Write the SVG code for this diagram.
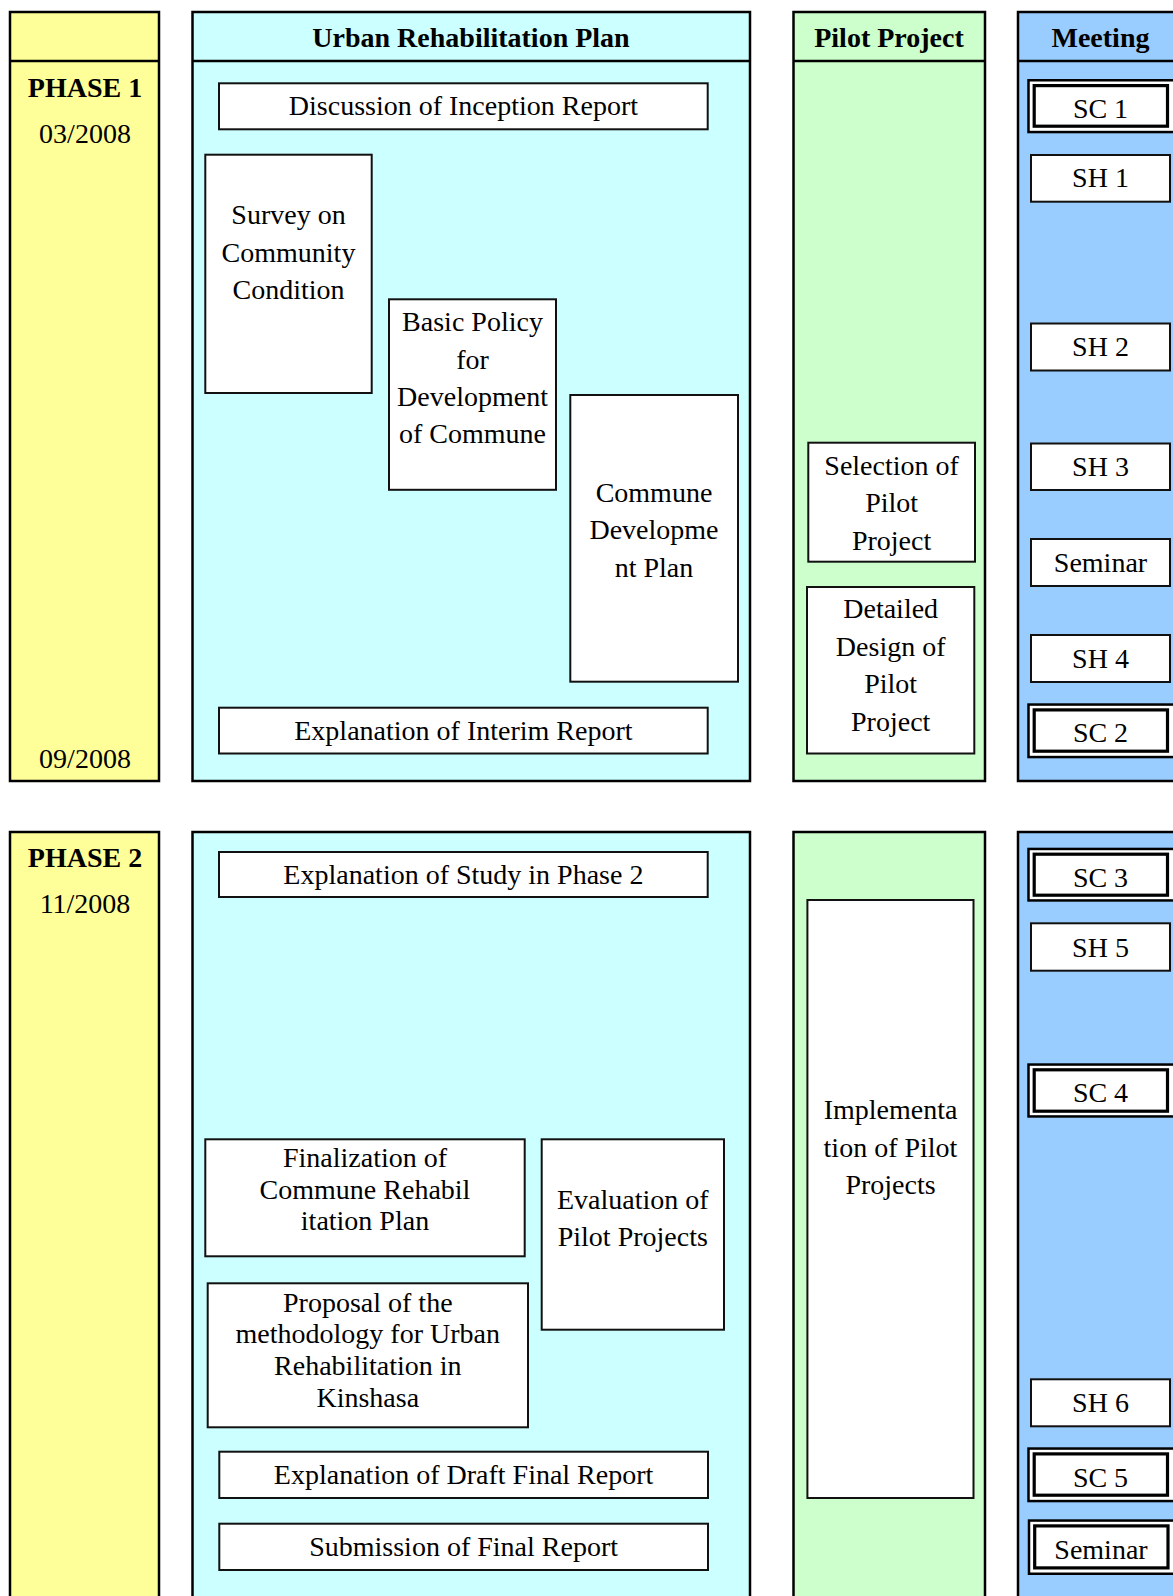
<svg xmlns="http://www.w3.org/2000/svg" width="1173" height="1596" viewBox="0 0 1173 1596">
<style>
.t{font-family:"Liberation Serif","Times New Roman",serif;font-size:28px;fill:#000;text-anchor:middle}
.b{font-weight:bold}
.pan{stroke:#000;stroke-width:2.5}
.hl{stroke:#000;stroke-width:2.5}
.box{fill:#fff;stroke:#111;stroke-width:2}
.dout{fill:#fff;stroke:#000;stroke-width:2.5}
.din{fill:#fff;stroke:#000;stroke-width:3.2}
</style>
<rect width="1173" height="1596" fill="#fff"/>

<!-- Phase 1 panels -->
<g id="phase1-timeline">
<rect class="pan" x="10" y="12" width="149" height="769" fill="#FFFF99"/>
<line class="hl" x1="10" y1="61" x2="159" y2="61"/>
<text class="t b" x="85" y="96.5">PHASE 1</text>
<text class="t" x="85" y="142.5">03/2008</text>
<text class="t" x="85" y="767.5">09/2008</text>
</g>
<g id="phase1-urban">
<rect class="pan" x="192.5" y="12" width="557.5" height="769" fill="#CCFFFF"/>
<line class="hl" x1="192.5" y1="61" x2="750" y2="61"/>
<text class="t b" x="471" y="46.5">Urban Rehabilitation Plan</text>
</g>
<g id="phase1-pilot">
<rect class="pan" x="793.5" y="12" width="191.5" height="769" fill="#CCFFCC"/>
<line class="hl" x1="793.5" y1="61" x2="985" y2="61"/>
<text class="t b" x="889" y="46.5">Pilot Project</text>
</g>
<g id="phase1-meeting">
<rect class="pan" x="1018" y="12" width="170" height="769" fill="#99CCFF"/>
<line class="hl" x1="1018" y1="61" x2="1188" y2="61"/>
<text class="t b" x="1100.5" y="46.5">Meeting</text>
</g>

<!-- Phase 2 panels -->
<g id="phase2-timeline">
<rect class="pan" x="10" y="832" width="149" height="800" fill="#FFFF99"/>
<text class="t b" x="85" y="866.5">PHASE 2</text>
<text class="t" x="85" y="912.5">11/2008</text>
</g>
<g id="phase2-urban">
<rect class="pan" x="192.5" y="832" width="557.5" height="800" fill="#CCFFFF"/>
</g>
<g id="phase2-pilot">
<rect class="pan" x="793.5" y="832" width="191.5" height="800" fill="#CCFFCC"/>
</g>
<g id="phase2-meeting">
<rect class="pan" x="1018" y="832" width="170" height="800" fill="#99CCFF"/>
</g>

<!-- Urban Rehabilitation Plan nodes, phase 1 -->
<g id="n-discussion">
<rect class="box" x="219" y="83.3" width="488.7" height="46"/>
<text class="t" x="463.4" y="115">Discussion of Inception Report</text>
</g>
<g id="n-survey">
<rect class="box" x="205.3" y="154.7" width="166.4" height="238.3"/>
<text class="t" x="288.5" y="224">Survey on</text>
<text class="t" x="288.5" y="261.5">Community</text>
<text class="t" x="288.5" y="299">Condition</text>
</g>
<g id="n-basic-policy">
<rect class="box" x="389" y="299.3" width="167" height="190.5"/>
<text class="t" x="472.5" y="331">Basic Policy</text>
<text class="t" x="472.5" y="368.5">for</text>
<text class="t" x="472.5" y="406">Development</text>
<text class="t" x="472.5" y="443">of Commune</text>
</g>
<g id="n-commune-plan">
<rect class="box" x="570.3" y="395" width="167.7" height="286.7"/>
<text class="t" x="654" y="501.7">Commune</text>
<text class="t" x="654" y="539">Developme</text>
<text class="t" x="654" y="576.7">nt Plan</text>
</g>
<g id="n-interim">
<rect class="box" x="219" y="707.7" width="488.7" height="45.8"/>
<text class="t" x="463.4" y="739.5">Explanation of Interim Report</text>
</g>

<!-- Pilot Project nodes, phase 1 -->
<g id="n-selection">
<rect class="box" x="808.3" y="442.7" width="166.7" height="119"/>
<text class="t" x="891.6" y="475">Selection of</text>
<text class="t" x="891.6" y="512.3">Pilot</text>
<text class="t" x="891.6" y="549.5">Project</text>
</g>
<g id="n-detailed">
<rect class="box" x="807" y="587" width="167.3" height="166.5"/>
<text class="t" x="890.7" y="618.3">Detailed</text>
<text class="t" x="890.7" y="656">Design of</text>
<text class="t" x="890.7" y="693.3">Pilot</text>
<text class="t" x="890.7" y="730.8">Project</text>
</g>

<!-- Meeting nodes, phase 1 -->
<g id="n-sc1">
<rect class="dout" x="1028.5" y="80.25" width="150" height="51.8"/>
<rect class="din" x="1034.2" y="85.6" width="133.3" height="40.6"/>
<text class="t" x="1100.5" y="118.3">SC 1</text>
</g>
<g id="n-sh1">
<rect class="box" x="1031" y="155" width="139" height="46.7"/>
<text class="t" x="1100.5" y="186.7">SH 1</text>
</g>
<g id="n-sh2">
<rect class="box" x="1031" y="323.5" width="139" height="47"/>
<text class="t" x="1100.5" y="355.5">SH 2</text>
</g>
<g id="n-sh3">
<rect class="box" x="1031" y="443.5" width="139" height="46.5"/>
<text class="t" x="1100.5" y="475.5">SH 3</text>
</g>
<g id="n-seminar1">
<rect class="box" x="1031" y="539" width="139" height="47"/>
<text class="t" x="1100.5" y="571.5">Seminar</text>
</g>
<g id="n-sh4">
<rect class="box" x="1031" y="635" width="139" height="47"/>
<text class="t" x="1100.5" y="667.5">SH 4</text>
</g>
<g id="n-sc2">
<rect class="dout" x="1028.5" y="704.55" width="150" height="52.5"/>
<rect class="din" x="1034.2" y="709.9" width="133.3" height="41.3"/>
<text class="t" x="1100.5" y="742.3">SC 2</text>
</g>

<!-- Urban Rehabilitation Plan nodes, phase 2 -->
<g id="n-study">
<rect class="box" x="219" y="852" width="488.7" height="45"/>
<text class="t" x="463.4" y="884">Explanation of Study in Phase 2</text>
</g>
<g id="n-finalization">
<rect class="box" x="205.3" y="1139.3" width="319.4" height="117"/>
<text class="t" x="365" y="1167">Finalization of</text>
<text class="t" x="365" y="1198.5">Commune Rehabil</text>
<text class="t" x="365" y="1230">itation Plan</text>
</g>
<g id="n-evaluation">
<rect class="box" x="541.7" y="1139.3" width="182.3" height="190.4"/>
<text class="t" x="632.8" y="1209">Evaluation of</text>
<text class="t" x="632.8" y="1246">Pilot Projects</text>
</g>
<g id="n-proposal">
<rect class="box" x="207.7" y="1283.3" width="320.3" height="144"/>
<text class="t" x="367.8" y="1311.5">Proposal of the</text>
<text class="t" x="367.8" y="1343.3">methodology for Urban</text>
<text class="t" x="367.8" y="1375">Rehabilitation in</text>
<text class="t" x="367.8" y="1406.7">Kinshasa</text>
</g>
<g id="n-draft">
<rect class="box" x="219.3" y="1451.7" width="488.7" height="46.3"/>
<text class="t" x="463.6" y="1484.3">Explanation of Draft Final Report</text>
</g>
<g id="n-submission">
<rect class="box" x="219.3" y="1523.7" width="488.7" height="46.3"/>
<text class="t" x="463.6" y="1556.3">Submission of Final Report</text>
</g>

<!-- Pilot Project node, phase 2 -->
<g id="n-implementation">
<rect class="box" x="807.4" y="900" width="166.1" height="598"/>
<text class="t" x="890.5" y="1119">Implementa</text>
<text class="t" x="890.5" y="1156.5">tion of Pilot</text>
<text class="t" x="890.5" y="1193.5">Projects</text>
</g>

<!-- Meeting nodes, phase 2 -->
<g id="n-sc3">
<rect class="dout" x="1028.5" y="848.95" width="150" height="51.5"/>
<rect class="din" x="1034.2" y="854.2" width="133.3" height="41"/>
<text class="t" x="1100.5" y="887">SC 3</text>
</g>
<g id="n-sh5">
<rect class="box" x="1031" y="923.3" width="139" height="47.4"/>
<text class="t" x="1100.5" y="956.7">SH 5</text>
</g>
<g id="n-sc4">
<rect class="dout" x="1028.5" y="1064.55" width="150" height="51.9"/>
<rect class="din" x="1034.2" y="1069.8" width="133.3" height="41.4"/>
<text class="t" x="1100.5" y="1101.7">SC 4</text>
</g>
<g id="n-sh6">
<rect class="box" x="1031" y="1379.3" width="139" height="47"/>
<text class="t" x="1100.5" y="1412.3">SH 6</text>
</g>
<g id="n-sc5">
<rect class="dout" x="1028.5" y="1448.55" width="150" height="52.5"/>
<rect class="din" x="1034.2" y="1453.9" width="133.3" height="41.3"/>
<text class="t" x="1100.5" y="1486.7">SC 5</text>
</g>
<g id="n-seminar2">
<rect class="dout" x="1029" y="1520.55" width="150" height="53.2"/>
<rect class="din" x="1034.7" y="1525.9" width="133.3" height="42"/>
<text class="t" x="1101" y="1559">Seminar</text>
</g>

<g id="connectors"></g>
</svg>
